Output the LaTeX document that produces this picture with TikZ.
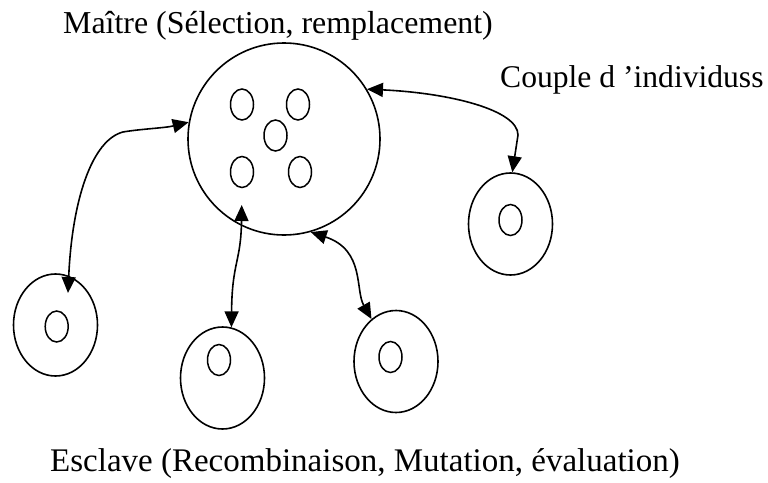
\documentclass[tikz,border=0pt]{standalone}
\usepackage{fontspec}
\setmainfont{Liberation Serif}
\usetikzlibrary{shapes.geometric,arrows.meta,calc}

\tikzset{
  cell/.style={draw, ellipse, line width=1.6pt, inner sep=0pt},
  pool/.style={cell, minimum width=192pt, minimum height=192pt},
  slave/.style={cell, minimum width=84pt, minimum height=102pt},
  indiv/.style={cell, line width=1.5pt, minimum width=23pt, minimum height=31pt},
  link/.style={line width=1.6pt, {Triangle[length=16pt,width=14pt]}-{Triangle[length=16pt,width=14pt]}},
  caption/.style={anchor=base west, inner sep=0pt}
}

\begin{document}
\begin{tikzpicture}[x=1pt, y=-1pt]
  \useasboundingbox (0,0) rectangle (768,482);

  % master population
  \node[pool] (master) at (284,139) {};
  \node[indiv] (m1) at (242,104.5) {};
  \node[indiv] (m2) at (298,104.5) {};
  \node[indiv] (m3) at (275.5,135.5) {};
  \node[indiv] (m4) at (242,172) {};
  \node[indiv] (m5) at (300,172) {};

  % slave processors, each with one individual
  \node[slave] (s1) at (55.5,325) {};
  \node[indiv] (i1) at (56.7,326.5) {};
  \node[slave] (s2) at (222.5,378) {};
  \node[indiv] (i2) at (219,360) {};
  \node[slave] (s3) at (396,361.5) {};
  \node[indiv] (i3) at (390.5,357) {};
  \node[slave] (s4) at (510.5,224) {};
  \node[indiv] (i4) at (510.5,220) {};

  % exchange links
  \coordinate (e1) at ($(s1.center)+(12.5,-32)$);
  \coordinate (e2) at ($(master.center)+(-42.3,66)$);
  \draw[link] (master.170) .. controls (165,128) and (140,129) .. (123,132)
                           .. controls (92,140) and (72,200) .. (e1);
  \draw[link] (e2) .. controls (241,262) and (232,262) .. (s2.80);
  \draw[link] (master.286) .. controls (365,250) and (355,290) .. (s3.120);
  \draw[link] (master.31) .. controls (450,93) and (518,110) .. (518,135) -- (s4.88);

  % captions
  \node[caption, font=\fontsize{31.9}{38}\selectfont] (tmaster) at (63,33) {Maître (Sélection, remplacement)};
  \node[caption, font=\fontsize{31.6}{38}\selectfont] (tcouple) at (500,87) {Couple d ’individuss};
  \node[caption, font=\fontsize{33}{38}\selectfont] (tslave) at (50,471) {Esclave (Recombinaison, Mutation, évaluation)};
\end{tikzpicture}
\end{document}
